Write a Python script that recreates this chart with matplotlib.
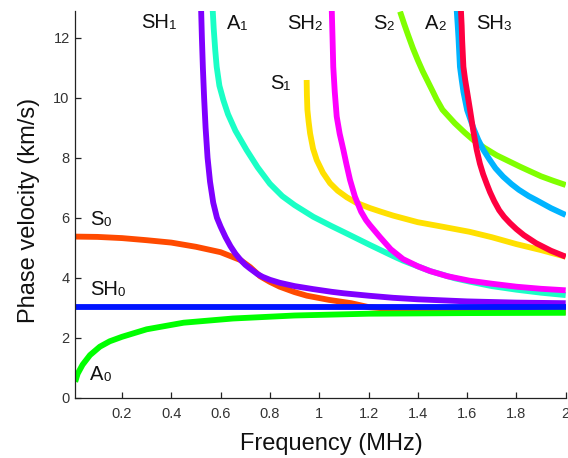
import matplotlib
matplotlib.use("Agg")
import matplotlib.pyplot as plt

plt.rcParams['font.family'] = ['Liberation Sans', 'DejaVu Sans']

# ---- data (frequency MHz, phase velocity km/s) ----
A0_f = [0.01, 0.02, 0.04, 0.07, 0.11, 0.15, 0.2, 0.3, 0.45, 0.65, 0.9, 1.2, 1.6, 2.0]
A0_v = [0.53, 0.8, 1.1, 1.42, 1.7, 1.88, 2.03, 2.28, 2.5, 2.64, 2.74, 2.8, 2.82, 2.83]

SH0_f = [0.01, 2.0]
SH0_v = [3.02, 3.02]

S0_f = [0.01, 0.1, 0.2, 0.3, 0.4, 0.5, 0.6, 0.68, 0.72, 0.76, 0.8, 0.84, 0.9, 0.95,
        1.04, 1.13, 1.2, 1.3, 1.45, 1.6, 2.0]
S0_v = [5.37, 5.36, 5.32, 5.25, 5.17, 5.03, 4.85, 4.59, 4.35, 4.05, 3.86, 3.7, 3.52, 3.4,
        3.26, 3.15, 3.02, 2.95, 2.91, 2.88, 2.86]

SH1_f = [0.521, 0.524, 0.528, 0.533, 0.539, 0.547, 0.557, 0.57, 0.585, 0.6, 0.62, 0.64,
         0.66, 0.68, 0.7, 0.72, 0.75, 0.77, 0.8, 0.84, 0.9, 0.975, 1.05, 1.1, 1.2, 1.3,
         1.4, 1.6, 1.8, 2.0]
SH1_v = [12.9, 12.0, 11.0, 10.0, 9.0, 8.0, 7.2, 6.5, 6.0, 5.7, 5.35, 5.05,
         4.8, 4.6, 4.43, 4.3, 4.12, 4.03, 3.93, 3.83, 3.72, 3.62, 3.53, 3.48, 3.4, 3.33,
         3.28, 3.21, 3.17, 3.15]

A1_f = [0.568, 0.572, 0.578, 0.584, 0.595, 0.611, 0.63, 0.66, 0.705, 0.75, 0.8, 0.85,
        0.9, 0.976, 1.05, 1.1, 1.206, 1.3, 1.34, 1.45, 1.55, 1.61, 1.7, 1.8, 1.9, 2.0]
A1_v = [12.9, 12.3, 11.6, 11.03, 10.4, 9.92, 9.45, 8.9, 8.26, 7.68, 7.13, 6.72,
        6.42, 6.03, 5.72, 5.52, 5.09, 4.72, 4.57, 4.22, 3.98, 3.87, 3.72, 3.6, 3.5, 3.42]

S1_f = [0.949, 0.950, 0.952, 0.957, 0.963, 0.975, 0.99, 1.015, 1.044, 1.075, 1.112, 1.15,
        1.206, 1.25, 1.3, 1.4, 1.5, 1.61, 1.7, 1.8, 1.9, 2.0]
S1_v = [10.59, 10.1, 9.6, 9.2, 8.81, 8.3, 7.92, 7.5, 7.15, 6.9, 6.68, 6.5,
        6.32, 6.2, 6.07, 5.85, 5.7, 5.53, 5.35, 5.12, 4.92, 4.70]

SH2_f = [1.051, 1.054, 1.057, 1.063, 1.071, 1.083, 1.098, 1.11, 1.125, 1.145, 1.17, 1.19,
         1.206, 1.247, 1.29, 1.34, 1.4, 1.45, 1.52, 1.61, 1.7, 1.8, 1.9, 2.0]
SH2_v = [12.9, 12.0, 11.03, 10.2, 9.37, 8.8, 8.26, 7.8, 7.26, 6.7, 6.2, 5.92,
         5.75, 5.35, 4.95, 4.62, 4.38, 4.22, 4.05, 3.9, 3.8, 3.7, 3.63, 3.58]

S2_f = [1.328, 1.345, 1.36, 1.38, 1.40, 1.42, 1.44, 1.46, 1.476, 1.50, 1.55, 1.59, 1.625,
        1.67, 1.72, 1.77, 1.815, 1.86, 1.9, 1.95, 2.0]
S2_v = [12.87, 12.45, 12.1, 11.65, 11.25, 10.88, 10.55, 10.22, 9.95, 9.6, 9.15, 8.84, 8.59,
        8.33, 8.08, 7.88, 7.70, 7.53, 7.38, 7.23, 7.09]

A2_f = [1.558, 1.562, 1.565, 1.571, 1.578, 1.585, 1.60, 1.625, 1.645, 1.666, 1.69, 1.715,
        1.746, 1.78, 1.81, 1.85, 1.88, 1.94, 2.0]
A2_v = [12.9, 12.4, 12.0, 11.03, 10.6, 10.2, 9.59, 9.0, 8.6, 8.26, 7.95, 7.65,
        7.37, 7.12, 6.93, 6.72, 6.59, 6.32, 6.09]

SH3_f = [1.575, 1.578, 1.58, 1.585, 1.592, 1.60, 1.612, 1.625, 1.639, 1.652, 1.665, 1.68,
         1.693, 1.71, 1.73, 1.75, 1.774, 1.8, 1.83, 1.88, 1.94, 2.0]
SH3_v = [12.9, 12.4, 11.9, 11.03, 10.6, 10.2, 9.59, 8.9, 8.26, 7.8, 7.45, 7.12,
         6.85, 6.55, 6.25, 6.03, 5.82, 5.62, 5.42, 5.15, 4.9, 4.70]

x_ticks = [0.2, 0.4, 0.6, 0.8, 1.0, 1.2, 1.4, 1.6, 1.8, 2.0]
x_tick_labels = ['0.2', '0.4', '0.6', '0.8', '1', '1.2', '1.4', '1.6', '1.8', '2']
y_ticks = [0, 2, 4, 6, 8, 10, 12]
y_tick_labels = ['0', '2', '4', '6', '8', '10', '12']

# mode labels: (main text, subscript digit, x, y baseline in data units)
labels = [
    ('SH', '1', 0.277, 12.31), ('A', '1', 0.625, 12.28), ('SH', '2', 0.868, 12.28),
    ('S', '2', 1.218, 12.28), ('A', '2', 1.429, 12.28), ('SH', '3', 1.636, 12.28),
    ('S', '1', 0.80, 10.28), ('S', '0', 0.07, 5.76), ('SH', '0', 0.07, 3.42),
    ('A', '0', 0.07, 0.59),
]

# ---- figure ----
fig = plt.figure(figsize=(5.68, 4.58), dpi=100)
ax = fig.add_axes([75.2 / 568, 60.3 / 458, 490.5 / 568, 387 / 458])

lw = 4.2
curves = [
    (S0_f, S0_v, '#ff4a00'),
    (SH1_f, SH1_v, '#7f00ff'),
    (SH0_f, SH0_v, '#0014ff'),
    (A0_f, A0_v, '#00ff00'),
    (A1_f, A1_v, '#1affc6'),
    (S1_f, S1_v, '#ffe000'),
    (SH2_f, SH2_v, '#ff00ff'),
    (S2_f, S2_v, '#80ff00'),
    (A2_f, A2_v, '#00b4ff'),
    (SH3_f, SH3_v, '#ff0040'),
]
for f, v, c in curves:
    ax.plot(f, v, color=c, lw=lw, solid_capstyle='butt', solid_joinstyle='round')

ax.set_xlim(0.01, 2.0)
ax.set_ylim(0, 12.9)
ax.set_xticks(x_ticks)
ax.set_xticklabels(x_tick_labels)
ax.set_yticks(y_ticks)
ax.set_yticklabels(y_tick_labels)
ax.tick_params(direction='in', length=4, width=0.9, colors='#222222',
               labelsize=10.5, labelcolor='#333333')
ax.tick_params(axis='x', pad=7)
ax.tick_params(axis='y', pad=4)
for s in ('top', 'right'):
    ax.spines[s].set_visible(False)
for s in ('left', 'bottom'):
    ax.spines[s].set_color('#222222')
    ax.spines[s].set_linewidth(0.9)

ax.set_xlabel('Frequency (MHz)', fontsize=17, color='#111111')
ax.xaxis.label.set_va('baseline')
ax.xaxis.set_label_coords(0.5215, -0.135)
ax.set_ylabel('Phase velocity (km/s)', fontsize=17, color='#111111')
ax.yaxis.set_label_coords(-0.072, 0.485)

for main, sub, x, y in labels:
    t = ax.text(x, y, main, fontsize=14.5, va='baseline', ha='left', color='#111111')
    ax.annotate(sub, xy=(1, 0), xycoords=t, va='bottom', ha='left',
                fontsize=9.5, color='#111111')

fig.savefig('out.png', dpi=100)
